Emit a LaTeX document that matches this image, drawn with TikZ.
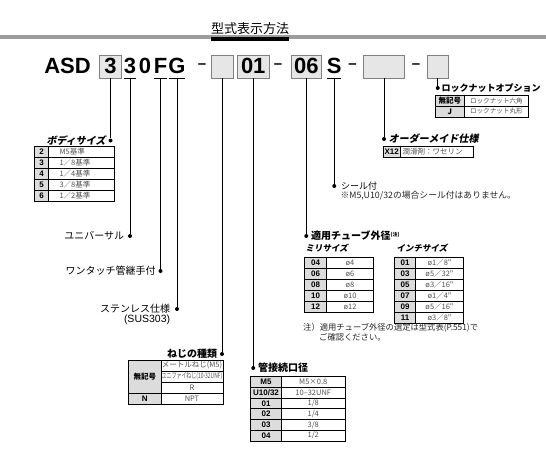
\documentclass[tikz,border=0pt]{standalone}
\usepackage{fontspec}
\setmainfont{Liberation Sans}
\newfontfamily\jp{Noto Sans CJK JP}
\newfontfamily\jpsl[FakeSlant=0.18]{Noto Sans CJK JP}
\usetikzlibrary{positioning}
\definecolor{ruleGray}{HTML}{9C9C9C}
\definecolor{boxFill}{HTML}{E6E6E6}
\definecolor{boxEdge}{HTML}{808080}
\definecolor{keyFill}{HTML}{DCDCDC}
\definecolor{valText}{HTML}{505050}

\tikzset{
  code/.style={font=\fontsize{22}{22}\selectfont\bfseries, inner sep=0pt, anchor=base},
  codebox/.style={code, anchor=center, draw=boxEdge, fill=boxFill, line width=0.8pt,
                  minimum height=23pt, text height=14.5pt, text depth=0pt},
  ucode/.style={code, text depth=4.5pt, inner xsep=-0.5pt},
  sepdash/.style={font=\fontsize{15}{15}\selectfont\bfseries, inner sep=0pt},
  pin/.style={circle, fill=black, inner sep=0pt, minimum size=4pt},
  lead/.style={line width=1pt},
  lbl/.style={font=\jp\fontsize{10}{12}\selectfont, inner sep=0.5pt},
  lblb/.style={font=\jp\bfseries\fontsize{10}{12}\selectfont, inner sep=0.5pt},
  lbls/.style={font=\jpsl\bfseries\fontsize{10}{12}\selectfont, inner sep=0.5pt},
  key/.style={draw, line width=0.7pt, fill=keyFill, inner sep=0pt, minimum height=11pt,
              font=\fontsize{8}{8}\selectfont\bfseries},
  jkey/.style={key, font=\jp\bfseries\fontsize{7.5}{8}\selectfont},
  val/.style={draw, line width=0.7pt, inner sep=0pt, minimum height=11pt, text=valText,
              font=\jp\fontsize{7.5}{8}\selectfont},
  note/.style={font=\jp\fontsize{8.3}{10}\selectfont, inner sep=0pt, text=black!85, align=left},
}

\begin{document}
\begin{tikzpicture}[x=1pt,y=-1pt]
\useasboundingbox (0,0) rectangle (546,463);

% heading
\fill[ruleGray] (0,35) rectangle (546,39);
\node[font=\jp\fontsize{13}{13}\selectfont, inner sep=0pt] (title) at (250,28.5) {型式表示方法};
\fill (title.west |- 0,36.5) rectangle (title.east |- 0,40.5);

% model code
\node[code] (asd) at (67.5,73.75) {ASD};
\node[codebox, minimum width=22pt] (bBody) at (110.5,66.5) {3};
\node[ucode] (cUni) at (130,73.75) {3};
\node[code] (cZero) at (145,73.75) {0};
\node[ucode] (cOne) at (160.5,73.75) {F};
\node[ucode] (cSus) at (177,73.75) {G};
\node[sepdash] (d1) at (202,66.5) {–};
\node[codebox, minimum width=22pt] (bThread) at (222,66.5) {};
\node[codebox, minimum width=31.5pt] (bPort) at (253.25,66.5) {01};
\node[sepdash] (d2) at (278,66.5) {–};
\node[codebox, minimum width=29.5pt] (bTube) at (306.25,66.5) {06};
\node[ucode] (cSeal) at (334.25,73.75) {S};
\node[sepdash] (d3) at (352.5,66.5) {–};
\node[codebox, minimum width=41pt] (bMade) at (384,66.5) {};
\node[sepdash] (d4) at (416,66.5) {–};
\node[codebox, minimum width=21.5pt] (bNut) at (437.75,66.5) {};

\foreach \n in {cUni,cOne,cSus,cSeal}
  \draw[line width=1.4pt] (\n.south west) -- (\n.south east);

% pins
\node[pin] (pBody)   at (bBody |- 0,140.5) {};
\node[pin] (pUni)    at (cUni |- 0,236) {};
\node[pin] (pOne)    at (cOne |- 0,271) {};
\node[pin] (pSus)    at (cSus |- 0,309) {};
\node[pin] (pThread) at (bThread |- 0,354) {};
\node[pin] (pPort)   at (bPort |- 0,368) {};
\node[pin] (pTube)   at (bTube |- 0,236) {};
\node[pin] (pSeal)   at (cSeal |- 0,186) {};
\node[pin] (pMade)   at (bMade |- 0,139) {};
\node[pin] (pNut)    at (bNut |- 0,88) {};

\foreach \a/\b in {bBody/pBody,cUni/pUni,cOne/pOne,cSus/pSus,bThread/pThread,
                   bPort/pPort,bTube/pTube,cSeal/pSeal,bMade/pMade,bNut/pNut}
  \draw[lead] (\a) -- (\b);

% labels
\node[lbls, left=2pt of pBody] (lBody) {ボディサイズ};
\node[lbl, left=3pt of pUni] (lUni) {ユニバーサル};
\node[lbl, left=2pt of pOne] (lOne) {ワンタッチ管継手付};
\node[lbl, left=4pt of pSus] (lSus) {ステンレス仕様};
\node[font=\fontsize{10.5}{12}\selectfont, inner sep=0.5pt, anchor=north east] (lSus2)
  at (lSus.south east) {(SUS303)};
\node[lblb, left=2pt of pThread] (lThread) {ねじの種類};
\node[lblb, right=2pt of pPort] (lPort) {管接続口径};
\node[lblb, right=2pt of pTube] (lTube)
  {適用チューブ外径{\fontsize{5}{5}\selectfont\raisebox{3pt}{(注)}}};
\node[lbl, font=\jp\fontsize{9}{10}\selectfont, right=4pt of pSeal] (lSeal) {シール付};
\node[note, font=\jp\fontsize{8.8}{10}\selectfont, anchor=north west] (nSeal)
  at (lSeal.south west) {※M5,U10/32の場合シール付はありません。};
\node[lbls, right=2pt of pMade] (lMade) {オーダーメイド仕様};
\node[lblb, font=\jp\bfseries\fontsize{9}{10}\selectfont, right=1pt of pNut] (lNut)
  {ロックナットオプション};
\node[lbls, font=\jpsl\bfseries\fontsize{8.5}{10}\selectfont, anchor=west] (lMm)
  at (305,248.5) {ミリサイズ};
\node[lbls, font=\jpsl\bfseries\fontsize{8.5}{10}\selectfont, anchor=west] (lInch)
  at (396,248.5) {インチサイズ};

% body size table
\foreach \k/\v [count=\i] in {2/M5基準,3/1／8基準,4/1／4基準,5/3／8基準,6/1／2基準}
{
  \node[key, minimum width=14pt] (bodyK\i) at (41.5,{141+11*\i}) {\k};
  \node[val, text width=65.5pt, align=left] (bodyV\i) at (81.25,{141+11*\i})
    {\hspace*{11pt}\v};
}

% lock nut table
\foreach \k/\v [count=\i] in {無記号/ロックナット六角,J/ロックナット丸形}
{
  \node[jkey, minimum width=28.5pt] (nutK\i) at (449.75,{89.5+11*\i}) {\k};
  \node[val, font=\jp\fontsize{6.6}{8}\selectfont, text width=64pt, align=left] (nutV\i)
    at (496,{89.5+11*\i}) {\hspace*{6pt}\v};
}

% made to order
\node[key, minimum width=16.5pt, minimum height=10.5pt] (madeK) at (391.75,151.75) {X12};
\node[val, text width=73.5pt, minimum height=10.5pt, align=left] (madeV) at (436.75,151.75)
  {\hspace*{2.5pt}潤滑剤：ワセリン};

% thread table
\node[jkey, minimum width=32.5pt, minimum height=33.3pt] (thrK1) at (144.75,376.65) {無記号};
\node[key, minimum width=32.5pt, minimum height=11.1pt] (thrK2) at (144.75,398.85) {N};
\foreach \v [count=\i] in {メートルねじ(M5),{\scalebox{0.66}[1]{ユニファイねじ(10-32UNF)}},R,NPT}
  \node[val, minimum width=62pt, minimum height=11.1pt] (thrV\i) at (192,{354.45+11.1*\i}) {\v};

% port table
\foreach \k/\v [count=\i] in {M5/M5×0.8,{U10/32}/10–32UNF,01/{1/8},02/{1/4},03/{3/8},04/{1/2}}
{
  \node[key, minimum width=31pt, minimum height=10.75pt] (portK\i) at (266,{371.125+10.75*\i}) {\k};
  \node[val, minimum width=63.5pt, minimum height=10.75pt] (portV\i) at (313.25,{371.125+10.75*\i}) {\v};
}

% tube tables
\foreach \k/\v [count=\i] in {04/ø4,06/ø6,08/ø8,10/ø10,12/ø12}
{
  \node[key, minimum width=22pt] (mmK\i) at (315.5,{252+11*\i}) {\k};
  \node[val, minimum width=47pt] (mmV\i) at (350,{252+11*\i}) {\v};
}
\foreach \k/\v [count=\i] in {01/ø1／8",03/ø5／32",05/ø3／16",07/ø1／4",09/ø5／16",11/ø3／8"}
{
  \node[key, minimum width=21pt] (inK\i) at (405,{252+11*\i}) {\k};
  \node[val, minimum width=48pt] (inV\i) at (439.5,{252+11*\i}) {\v};
}

\node[note, anchor=north west] (nTube) at (303,323.5)
  {注）適用チューブ外径の選定は型式表(P.551)で\\\hspace*{16pt}ご確認ください。};

\end{tikzpicture}
\end{document}
